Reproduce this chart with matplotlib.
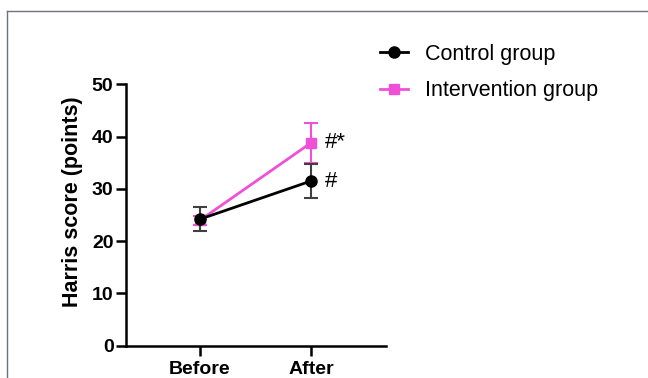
import matplotlib
matplotlib.use("Agg")
import matplotlib.pyplot as plt
from matplotlib.lines import Line2D

plt.rcParams['font.family'] = ['Liberation Sans', 'DejaVu Sans']

categories = ["Before", "After"]
control_mean = [24.2, 31.5]
control_err = [2.3, 3.2]
interv_mean = [24.0, 38.8]
interv_err = [0.9, 3.8]
annotations_ctrl = ["", "#"]
annotations_int = ["", "#*"]
yticks = [0, 10, 20, 30, 40, 50]

pink = '#F050D8'
grey = '#404040'

fig = plt.figure(figsize=(6.48, 3.78), dpi=100)
ax = fig.add_axes([126/648, 1-345.7/378, 260/648, (345.7-84.3)/378])

x = list(range(len(categories)))
c_int = ax.errorbar(x, interv_mean, yerr=interv_err, color=pink, ecolor=pink,
                    marker='s', markersize=7.5, linewidth=2.0, elinewidth=1.5,
                    capsize=5, capthick=1.5, label='Intervention group', zorder=3)
c_ctl = ax.errorbar(x, control_mean, yerr=control_err, color='black', ecolor=grey,
                    marker='o', markersize=8, linewidth=2.0, elinewidth=1.5,
                    capsize=5, capthick=1.5, label='Control group', zorder=4)

for xi, yi, t in zip(x, interv_mean, annotations_int):
    if t:
        ax.annotate(t, (xi, yi), xytext=(10, 0), textcoords='offset points',
                    ha='left', va='center', fontsize=16)
for xi, yi, t in zip(x, control_mean, annotations_ctrl):
    if t:
        ax.annotate(t, (xi, yi), xytext=(10, 0), textcoords='offset points',
                    ha='left', va='center', fontsize=16)

ax.set_xlim(-0.667, 1.676)
ax.set_ylim(0, 50)
ax.set_yticks(yticks)
ax.set_xticks(x)
ax.set_xticklabels(categories, fontsize=14, fontweight='bold')
ax.set_yticklabels([str(v) for v in yticks], fontsize=14, fontweight='bold')
ax.set_ylabel('Harris score (points)', fontsize=15.5, fontweight='bold')
ax.yaxis.set_label_coords(-0.165, 0.552)

for s in ['top', 'right']:
    ax.spines[s].set_visible(False)
for s in ['left', 'bottom']:
    ax.spines[s].set_linewidth(1.8)
ax.tick_params(axis='both', length=7, width=1.8, direction='out')
ax.tick_params(axis='y', pad=2)
ax.tick_params(axis='x', pad=4)

leg = fig.legend([c_ctl[0], c_int[0]], ['Control group', 'Intervention group'],
                 loc='upper left', bbox_to_anchor=(380/648, 1-44/378),
                 frameon=False, fontsize=15.5, handlelength=1.3,
                 handletextpad=0.8, labelspacing=0.7, borderpad=0, borderaxespad=0)

# partial frame around figure
fig.add_artist(Line2D([7/648, 1], [1-11/378, 1-11/378], color='#6b7280', linewidth=1.0,
                      transform=fig.transFigure))
fig.add_artist(Line2D([7/648, 7/648], [0, 1-11/378], color='#6b7280', linewidth=1.0,
                      transform=fig.transFigure))

fig.savefig('out.png', dpi=100)
